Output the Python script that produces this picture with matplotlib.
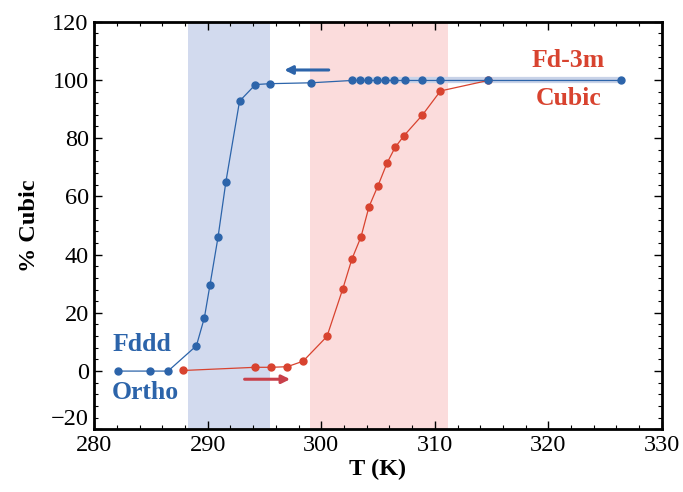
import matplotlib
matplotlib.use("Agg")
import matplotlib.pyplot as plt
import matplotlib.transforms as mtransforms
from matplotlib.ticker import MultipleLocator

plt.rcParams['font.family'] = ['Liberation Serif', 'DejaVu Serif']

# Blue series (cooling, Cubic -> Ortho)
blue_T = [282.1, 284.9, 286.5, 289.0, 289.7, 290.2, 290.9, 291.6, 292.8, 294.2, 295.5,
          299.1, 302.7, 303.4, 304.1, 304.9, 305.6, 306.4, 307.4, 308.9, 310.5, 314.7, 326.4]
blue_pct = [0, 0, 0, 8.7, 18.3, 29.7, 45.9, 65.1, 92.7, 98.4, 98.7,
            99.0, 99.8, 99.8, 99.8, 99.8, 99.8, 99.8, 99.8, 99.8, 99.8, 99.8, 99.8]

# Red series (heating, Ortho -> Cubic)
red_T = [287.8, 294.2, 295.6, 297.0, 298.4, 300.5, 301.9, 302.7, 303.5, 304.2, 305.0,
         305.8, 306.5, 307.3, 308.9, 310.5, 314.7]
red_pct = [0.2, 1.3, 1.3, 1.5, 3.4, 11.9, 28.3, 38.5, 46.1, 56.4, 63.7,
           71.5, 76.8, 80.9, 87.9, 96.2, 99.8]

blue_band = (288.3, 295.5)
red_band = (299.0, 311.2)

y_ticks = [-20, 0, 20, 40, 60, 80, 100, 120]
y_ticklabels = ['\u221220', '0', '20', '40', '60', '80', '100', '120']

blue_c = '#2c64aa'
red_c = '#d8432f'

fig = plt.figure(figsize=(6.83, 4.92), dpi=100)
ax = fig.add_axes([0.138, 0.1274, 0.831, 0.8286])

ax.axvspan(*blue_band, color='#d2daee', lw=0, zorder=0)
ax.axvspan(*red_band, color='#fbdcdc', lw=0, zorder=0)

# pale band along the plateau
ax.plot(blue_T[12:], blue_pct[12:], color='#c9d3e8', lw=4.5, zorder=1, solid_capstyle='butt')

ax.plot(red_T, red_pct, '-o', color=red_c, lw=0.9, ms=5, zorder=2)
ax.plot(blue_T, blue_pct, '-o', color=blue_c, lw=0.9, ms=5, zorder=3)

# arrows
ax.annotate('', xy=(296.5, 103.4), xytext=(300.9, 103.4),
            arrowprops=dict(arrowstyle='-|>', color=blue_c, lw=2.2, mutation_scale=12))
ax.annotate('', xy=(297.5, -2.8), xytext=(293.0, -2.8),
            arrowprops=dict(arrowstyle='-|>', color='#c8404a', lw=2.2, mutation_scale=12))

fs_txt = 18.5
ax.text(321.7, 106.5, 'Fd-3m', color=red_c, fontsize=fs_txt, fontweight='bold', ha='center', va='center')
ax.text(321.8, 93.5, 'Cubic', color=red_c, fontsize=fs_txt, fontweight='bold', ha='center', va='center')
ax.text(284.2, 9.0, 'Fddd', color=blue_c, fontsize=fs_txt, fontweight='bold', ha='center', va='center')
ax.text(284.5, -7.5, 'Ortho', color=blue_c, fontsize=fs_txt, fontweight='bold', ha='center', va='center')

ax.set_xlim(280, 330)
ax.set_ylim(-20, 120)
ax.xaxis.set_major_locator(MultipleLocator(10))
ax.xaxis.set_minor_locator(MultipleLocator(2))
ax.yaxis.set_minor_locator(MultipleLocator(4))
ax.set_yticks(y_ticks)
ax.set_yticklabels(y_ticklabels)
ax.tick_params(which='both', direction='in', top=True, right=True, labelsize=17.5, pad=4)
ax.tick_params(which='major', length=6, width=1)
ax.tick_params(which='minor', length=3, width=0.8)
for s in ax.spines.values():
    s.set_linewidth(2)

# lift the lowest y label a little so it does not clash with the first x label
lowest = ax.get_yticklabels()[0]
lowest.set_transform(lowest.get_transform() +
                     mtransforms.ScaledTranslation(0, 9 / 72, fig.dpi_scale_trans))

ax.set_xlabel('T (K)', fontsize=17.5, fontweight='bold', labelpad=2)
ax.set_ylabel('% Cubic', fontsize=17.5, fontweight='bold', labelpad=8)

fig.savefig('out.png', dpi=100)
